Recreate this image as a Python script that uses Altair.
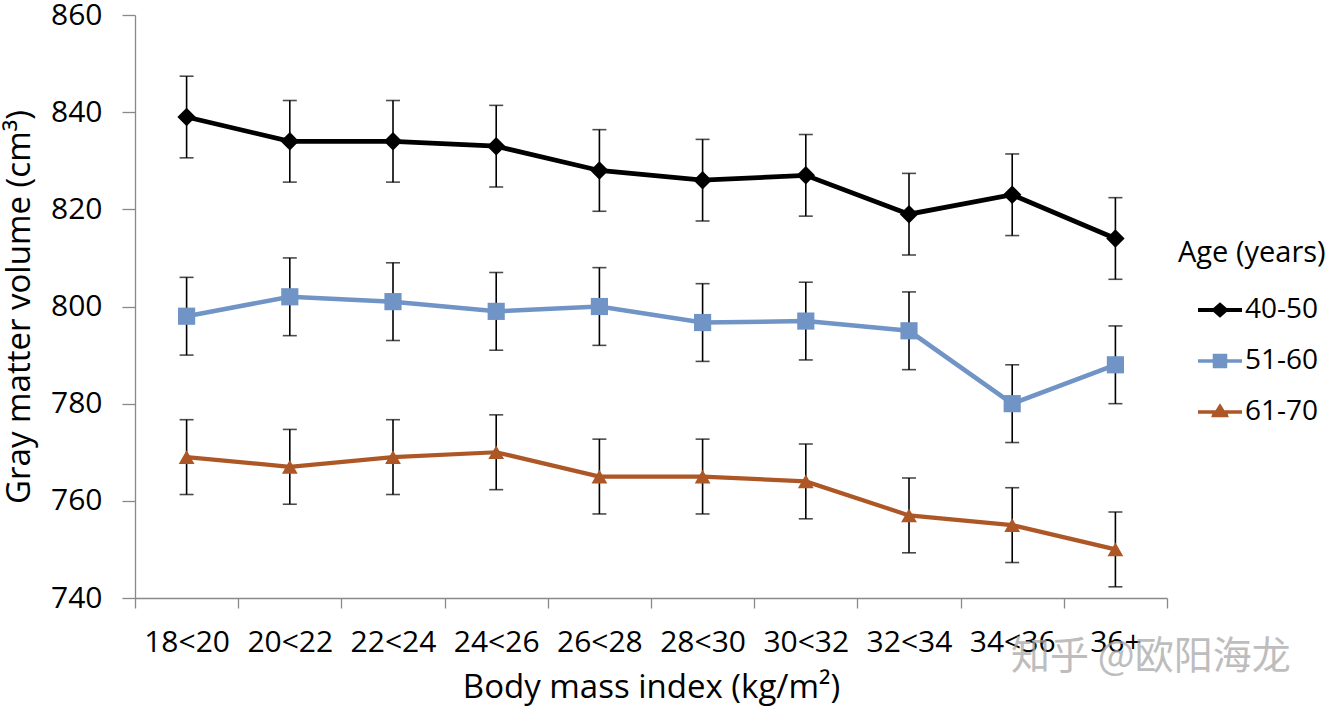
import altair as alt
import pandas as pd

bmi = ["18<20", "20<22", "22<24", "24<26", "26<28", "28<30", "30<32", "32<34", "34<36", "36+"]
ages = ["40-50", "51-60", "61-70"]
v_40_50 = [839, 834, 834, 833, 828, 826, 827, 819, 823, 814]
v_51_60 = [798, 802, 801, 799, 800, 796.7, 797, 795, 780, 788]
v_61_70 = [769, 767, 769, 770, 765, 765, 764, 757, 755, 750]
err_40_50 = [8.4] * 10
err_51_60 = [8.0] * 10
err_61_70 = [7.7] * 10

colors = ["#000000", "#7094c6", "#ad5726"]
marker_shapes = ["diamond", "square", "triangle-up"]

rows = []
for age, vals, errs in [("40-50", v_40_50, err_40_50), ("51-60", v_51_60, err_51_60), ("61-70", v_61_70, err_61_70)]:
    for b, v, e in zip(bmi, vals, errs):
        rows.append({"bmi": b, "age": age, "gmv": v, "lo": v - e, "hi": v + e})
df = pd.DataFrame(rows)

FONT = "Open Sans"

x_enc = alt.X("bmi:N", sort=bmi, scale=alt.Scale(paddingInner=0, paddingOuter=0),
              axis=alt.Axis(title="Body mass index (kg/m²)", tickBand="extent", labelAngle=0,
                            labelPadding=19, titlePadding=14, tickSize=10,
                            labelFontSize=30, titleFontSize=33))
y_enc = alt.Y("gmv:Q", scale=alt.Scale(domain=[740, 860], nice=False, zero=False),
              axis=alt.Axis(title="Gray matter volume (cm³)", values=[740, 760, 780, 800, 820, 840, 860],
                            labelPadding=20, titlePadding=14, tickSize=13,
                            labelFontSize=30, titleFontSize=33))

color_nolegend = alt.Color("age:N", scale=alt.Scale(domain=ages, range=colors), legend=None)

base = alt.Chart(df)

errbars = base.mark_rule(color="#000000", strokeWidth=1.6).encode(
    x=x_enc, y=alt.Y("lo:Q", title="Gray matter volume (cm³)"), y2="hi:Q")
caps_lo = base.mark_tick(color="#000000", thickness=1.6, size=14, orient="horizontal").encode(
    x=alt.X("bmi:N", sort=bmi), y=alt.Y("lo:Q"))
caps_hi = base.mark_tick(color="#000000", thickness=1.6, size=14, orient="horizontal").encode(
    x=alt.X("bmi:N", sort=bmi), y=alt.Y("hi:Q"))

lines = base.mark_line().encode(
    x=alt.X("bmi:N", sort=bmi), y=y_enc, color=color_nolegend,
    strokeWidth=alt.StrokeWidth("age:N", scale=alt.Scale(domain=ages, range=[4.8, 4.2, 4.2]), legend=None),
    detail="age:N")

points = base.mark_point(filled=True, opacity=1, strokeWidth=0).encode(
    x=alt.X("bmi:N", sort=bmi), y=alt.Y("gmv:Q"),
    color=color_nolegend,
    shape=alt.Shape("age:N", scale=alt.Scale(domain=ages, range=marker_shapes), legend=None),
    size=alt.Size("age:N", scale=alt.Scale(domain=ages, range=[340, 250, 300]), legend=None))

# legend symbols: line + marker combined paths
leg_paths = [
    "M-1,-0.09 L-0.3,-0.09 L0,-0.35 L0.3,-0.09 L1,-0.09 L1,0.09 L0.3,0.09 L0,0.35 L-0.3,0.09 L-1,0.09 Z",
    "M-1,-0.085 L-0.33,-0.085 L-0.33,-0.33 L0.33,-0.33 L0.33,-0.085 L1,-0.085 L1,0.085 L0.33,0.085 L0.33,0.33 L-0.33,0.33 L-0.33,0.085 L-1,0.085 Z",
    "M-1,-0.085 L-0.2,-0.085 L0,-0.4 L0.2,-0.085 L1,-0.085 L1,0.085 L0.35,0.085 L0.4,0.24 L-0.4,0.24 L-0.35,0.085 L-1,0.085 Z",
]
legend_layer = base.mark_point(filled=True, opacity=0, strokeWidth=0).encode(
    x=alt.X("bmi:N", sort=bmi), y=alt.Y("gmv:Q"),
    color=alt.Color("age:N", scale=alt.Scale(domain=ages, range=colors),
                    legend=alt.Legend(title="Age (years)", orient="none", legendX=1043, legendY=224,
                                      symbolSize=1936, symbolStrokeWidth=0, rowPadding=15,
                                      titlePadding=20, labelOffset=3, symbolOffset=20, symbolOpacity=1)),
    shape=alt.Shape("age:N", scale=alt.Scale(domain=ages, range=leg_paths), legend=None),
)

watermark = alt.Chart(pd.DataFrame({"t": ["知乎 @欧阳海龙"]})).mark_text(
    font="Noto Sans CJK SC", fontSize=39, color="#a8a8a8", opacity=0.75, align="left", baseline="middle"
).encode(text="t:N", x=alt.value(876), y=alt.value(642))

chart = alt.layer(errbars, caps_lo, caps_hi, lines, points, legend_layer, watermark).resolve_scale(
    color="independent", shape="independent", size="independent"
).properties(
    width=1032, height=583,
    background="white",
    autosize=alt.AutoSizeParams(type="none"),
    padding={"left": 135, "top": 15, "right": 161, "bottom": 113},
).configure_view(stroke=None).configure_axis(
    labelFont=FONT, titleFont=FONT,
    titleFontWeight="normal", labelColor="#000000", titleColor="#000000",
    tickColor="#898989", domainColor="#898989", grid=False, domainWidth=1.3, tickWidth=1.3
).configure_legend(
    titleFontSize=29, labelFontSize=28, titleFont=FONT, labelFont=FONT,
    titleFontWeight="normal", titleColor="#000000", labelColor="#000000"
)

chart.save("out.html", embed_options={"renderer": "svg", "actions": False})
